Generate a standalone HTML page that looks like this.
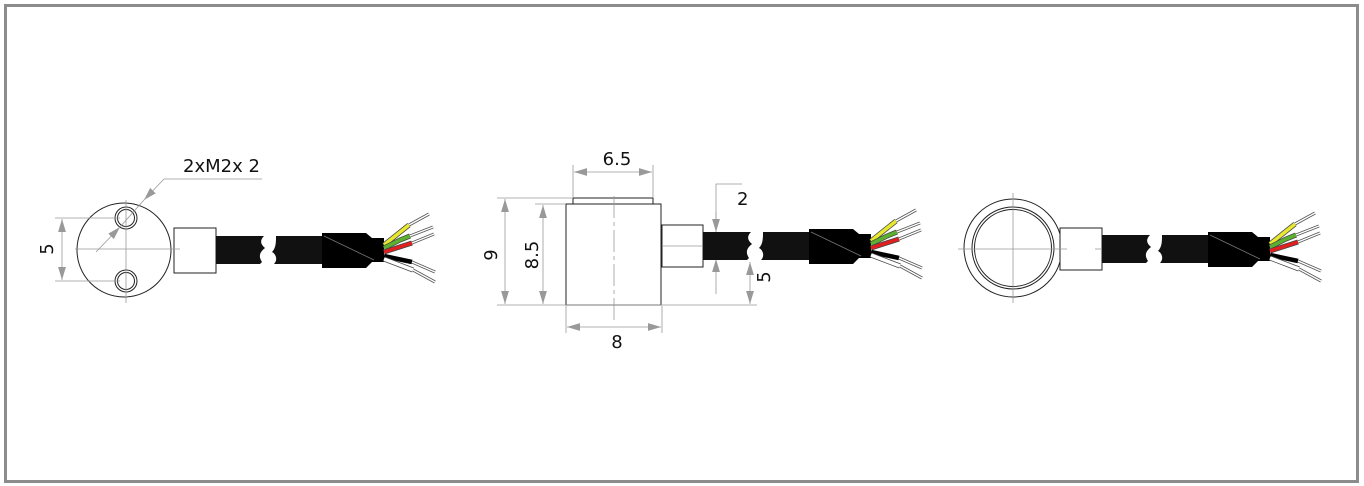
<!DOCTYPE html>
<html><head><meta charset="utf-8"><style>
html,body{margin:0;padding:0;background:#fff;}
svg{display:block;}
text{font-family:"DejaVu Sans","Liberation Sans",sans-serif;fill:#111;}
</style></head><body>
<svg width="1364" height="486" viewBox="0 0 1364 486" xmlns="http://www.w3.org/2000/svg">
<defs>
<marker id="ar" viewBox="0 0 10 6" refX="10" refY="3" markerWidth="13" markerHeight="8" markerUnits="userSpaceOnUse" orient="auto-start-reverse">
<path d="M0,0 L10,3 L0,6 z" fill="#999"/>
</marker>
<g id="cable">
<path d="M0,-14 H48 C44,-10 44,-6 49,-2 C44,2 42,6 46,12 L44,14 H0 Z" fill="#111"/>
<path d="M60,-14 H108 V14 H58 C62,10 60,4 56,2 C60,-2 60,-8 60,-14 Z" fill="#111"/>
<path d="M106,-17 L150,-17 L156,-12 L168,-12 V12 L156,12 L150,18 L106,18 Z" fill="#000"/>
<line x1="108" y1="-14" x2="158" y2="10" stroke="#777" stroke-width="0.8"/>
<g stroke-linecap="butt" fill="none">
<path d="M168,-5 L193,-25" stroke="#444" stroke-width="5"/><path d="M168,-5 L193,-25" stroke="#e8e830" stroke-width="3.5"/>
<path d="M168,-2 L184,-10 L194,-14" stroke="#444" stroke-width="5"/><path d="M168,-2 L184,-10 L194,-14" stroke="#5cb030" stroke-width="3.5"/>
<path d="M168,2 L196,-7" stroke="#444" stroke-width="5"/><path d="M168,2 L196,-7" stroke="#e02020" stroke-width="3.5"/>
<path d="M168,6 L196,12" stroke="#000" stroke-width="4.5"/>
<path d="M168,9 L197,20" stroke="#444" stroke-width="5"/><path d="M168,9 L197,20" stroke="#fff" stroke-width="3.5"/>
<g stroke="#555" stroke-width="3"><path d="M193,-25 L213,-36"/><path d="M194,-14 L217,-23"/><path d="M196,-7 L218,-16"/><path d="M196,12 L219,22"/><path d="M197,20 L219,32"/></g>
<g stroke="#fff" stroke-width="1.4"><path d="M193,-25 L213,-36"/><path d="M194,-14 L217,-23"/><path d="M196,-7 L218,-16"/><path d="M196,12 L219,22"/><path d="M197,20 L219,32"/></g>
</g>
</g>
</defs>
<rect x="5.5" y="5.5" width="1352" height="476" fill="none" stroke="#8c8c8c" stroke-width="3"/>

<!-- View 1 -->
<g stroke="#222" stroke-width="1" fill="none">
<circle cx="124" cy="250" r="47" fill="#fff"/>
<circle cx="126" cy="218" r="11"/><circle cx="126" cy="218" r="8.5"/>
<circle cx="126" cy="281" r="11"/><circle cx="126" cy="281" r="8.5"/>
<rect x="174" y="228" width="42" height="45" fill="#fff"/>
</g>
<g stroke="#999" stroke-width="0.8" fill="none">
<line x1="126" y1="200" x2="126" y2="303"/>
<line x1="75" y1="249" x2="180" y2="249"/>
<line x1="55" y1="218" x2="120" y2="218"/>
<line x1="55" y1="281" x2="120" y2="281"/>
<line x1="62" y1="219" x2="62" y2="280" marker-start="url(#ar)" marker-end="url(#ar)"/>
<line x1="96" y1="252" x2="120" y2="227" marker-end="url(#ar)"/>
<line x1="164" y1="179" x2="144" y2="200" marker-end="url(#ar)"/>
<line x1="120" y1="227" x2="144" y2="200"/>
<polyline points="164,179 262,179"/>
</g>
<text x="183" y="172" font-size="18">2xM2x  2</text>
<text transform="translate(53,249) rotate(-90)" font-size="18" text-anchor="middle">5</text>
<use href="#cable" x="216" y="250"/>

<!-- View 2 -->
<g stroke="#222" stroke-width="1" fill="#fff">
<rect x="573" y="198" width="80" height="6"/>
<rect x="566" y="204" width="95" height="101"/>
<rect x="662" y="225" width="41" height="42"/>
</g>
<g stroke="#999" stroke-width="0.8" fill="none">
<line x1="614" y1="196" x2="614" y2="320" stroke-dasharray="22,4,4,4"/>
<line x1="662" y1="246" x2="703" y2="246"/>
<line x1="573" y1="165" x2="573" y2="197"/><line x1="653" y1="165" x2="653" y2="197"/>
<line x1="574" y1="172" x2="652" y2="172" marker-start="url(#ar)" marker-end="url(#ar)"/>
<line x1="497" y1="198" x2="572" y2="198"/>
<line x1="497" y1="305" x2="757" y2="305"/>
<line x1="535" y1="204" x2="565" y2="204"/>
<line x1="505" y1="199" x2="505" y2="304" marker-start="url(#ar)" marker-end="url(#ar)"/>
<line x1="543" y1="205" x2="543" y2="304" marker-start="url(#ar)" marker-end="url(#ar)"/>
<line x1="566" y1="306" x2="566" y2="333"/><line x1="662" y1="306" x2="662" y2="333"/>
<line x1="567" y1="327" x2="661" y2="327" marker-start="url(#ar)" marker-end="url(#ar)"/>
<polyline points="742,184 716,184 716,232"/>
<line x1="716" y1="212" x2="716" y2="232" marker-end="url(#ar)"/>
<line x1="716" y1="294" x2="716" y2="259" marker-end="url(#ar)"/>
<line x1="750" y1="262" x2="750" y2="304" marker-start="url(#ar)" marker-end="url(#ar)"/>
</g>
<text x="617" y="165" font-size="18" text-anchor="middle">6.5</text>
<text x="737" y="205" font-size="18">2</text>
<text x="617" y="348" font-size="18" text-anchor="middle">8</text>
<text transform="translate(497,255) rotate(-90)" font-size="18" text-anchor="middle">9</text>
<text transform="translate(538,255) rotate(-90)" font-size="18" text-anchor="middle">8.5</text>
<text transform="translate(770,277) rotate(-90)" font-size="18" text-anchor="middle">5</text>
<use href="#cable" x="703" y="246"/>

<!-- View 3 -->
<g stroke="#222" stroke-width="1" fill="none">
<circle cx="1013" cy="248" r="49" fill="#fff"/>
<circle cx="1013" cy="248" r="41"/>
<circle cx="1013" cy="248" r="38.5"/>
<rect x="1060" y="228" width="42" height="42" fill="#fff"/>
</g>
<g stroke="#999" stroke-width="0.8">
<line x1="1013" y1="193" x2="1013" y2="303"/>
<line x1="958" y1="249" x2="1067" y2="249"/>
<line x1="1095" y1="249" x2="1102" y2="249"/>
</g>
<use href="#cable" x="1102" y="249"/>
</svg>
</body></html>
